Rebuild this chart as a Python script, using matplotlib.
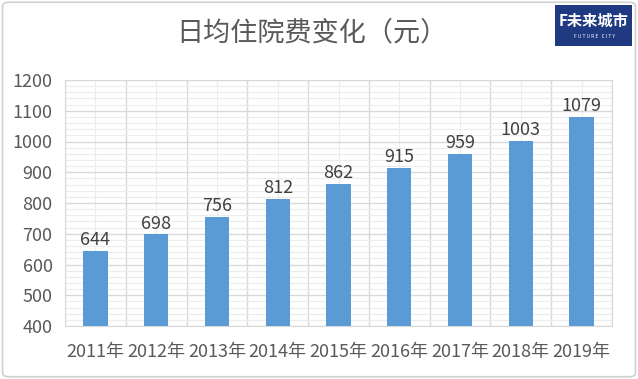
import matplotlib
matplotlib.use("Agg")
import matplotlib.pyplot as plt
from matplotlib.patches import FancyBboxPatch, Rectangle
from matplotlib.ticker import MultipleLocator

plt.rcParams['font.family'] = ['Noto Sans CJK SC', 'DejaVu Sans']

years = ["2011年", "2012年", "2013年", "2014年", "2015年", "2016年", "2017年", "2018年", "2019年"]
values = [644, 698, 756, 812, 862, 915, 959, 1003, 1079]
title = "日均住院费变化（元）"

fig = plt.figure(figsize=(6.38, 3.79), dpi=100)
fig.patch.set_facecolor("white")
# outer border
fig.patches.append(FancyBboxPatch((0.004, 0.006), 0.992, 0.988, boxstyle="round,pad=0,rounding_size=0.01",
                                  transform=fig.transFigure, fill=False, edgecolor="#d0d0d0", linewidth=1.2))

ax = fig.add_axes([65/638, 1-326/379, (612-65)/638, (326-80)/379])
x = list(range(len(years)))
ax.bar(x, [v - 400 for v in values], bottom=400, width=0.4, color="#5B9BD5", zorder=3)
ax.set_xlim(-0.5, len(years) - 0.5)
ax.set_ylim(400, 1200)
ax.yaxis.set_major_locator(MultipleLocator(100))
ax.yaxis.set_minor_locator(MultipleLocator(20))
ax.set_xticks(x)
ax.set_xticks([i + 0.5 for i in x[:-1]] + [-0.5, len(years) - 0.5], minor=True)
ax.set_xticklabels(years)
ax.grid(which="major", axis="y", color="#d9d9d9", linewidth=1.0, zorder=0)
ax.grid(which="minor", axis="y", color="#ececec", linewidth=0.8, zorder=0)
ax.grid(which="minor", axis="x", color="#d9d9d9", linewidth=1.0, zorder=0)
ax.grid(which="major", axis="x", color="#ececec", linewidth=0.8, zorder=0)
for s in ax.spines.values():
    s.set_color("#d9d9d9")
ax.tick_params(which="both", length=0, colors="#595959", labelsize=13)
ax.tick_params(axis="x", pad=12)
ax.tick_params(axis="y", pad=9)
for xi, v in zip(x, values):
    ax.text(xi, v + 6, str(v), ha="center", va="bottom", fontsize=13, color="#404040")

fig.text(312/638, 1 - 33/379, title, ha="center", va="center", fontsize=19.5, color="#595959")

# logo
fig.patches.append(Rectangle((555/638, 1 - 46/379), 77/638, 41/379, transform=fig.transFigure,
                             facecolor="#1f3a80", edgecolor="none"))
fig.text(594/638, 1 - 21/379, "F未来城市", ha="center", va="center", fontsize=11, color="white", weight="bold")
fig.text(594/638, 1 - 36/379, "F U T U R E   C I T Y", ha="center", va="center", fontsize=3.5, color="white")

fig.savefig("out.png", dpi=100)
